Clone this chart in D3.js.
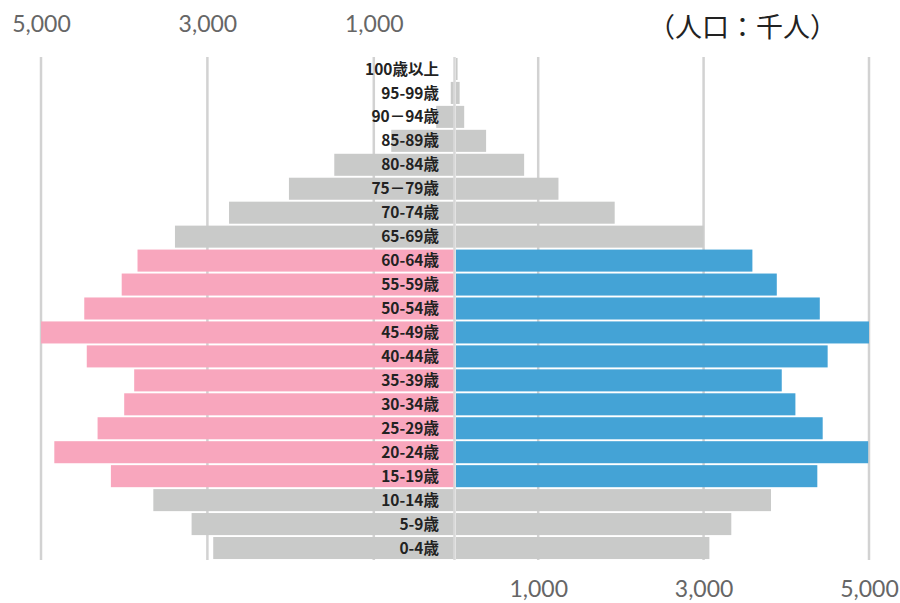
<!DOCTYPE html>
<html><head><meta charset="utf-8">
<script src="https://cdn.jsdelivr.net/npm/d3@7"></script>
<style>
html,body{margin:0;padding:0;background:#fff;}
svg{display:block;}
</style></head>
<body>
<svg id="chart" width="900" height="603"></svg>
<script>
// ---- data (thousand people) ----
const ageGroups = ["100歳以上","95-99歳","90－94歳","85-89歳","80-84歳","75－79歳","70-74歳","65-69歳","60-64歳","55-59歳","50-54歳","45-49歳","40-44歳","35-39歳","30-34歳","25-29歳","20-24歳","15-19歳","10-14歳","5-9歳","0-4歳"];
const leftValues  = [40, 75, 250, 790, 1475, 2020, 2740, 3390, 3840, 4030, 4480, 5000, 4450, 3880, 4000, 4320, 4840, 4160, 3650, 3190, 2930];
const rightValues = [25, 50, 105, 370, 830, 1245, 1925, 3000, 3590, 3885, 4405, 5000, 4500, 3945, 4110, 4440, 4990, 4375, 3815, 3335, 3070];
const workingAge  = [false,false,false,false,false,false,false,false,true,true,true,true,true,true,true,true,true,true,false,false,false];
const leftTicks  = [5000, 3000, 1000];
const rightTicks = [1000, 3000, 5000];
const unitLabel = "（人口：千人）";

// ---- scales ----
const svg = d3.select("#chart");
const xL = d3.scaleLinear().domain([0, 5000]).range([457, 41]);
const xR = d3.scaleLinear().domain([0, 5000]).range([455.5, 869]);
const y = d3.scaleBand().domain(ageGroups).range([57, 560]).paddingInner(0.08).paddingOuter(0.04);
const gap = 3.5;
const cPink = "#f8a6bd", cBlue = "#44a3d6", cGray = "#c9cac9";

// grid lines
const grid = svg.append("g");
grid.selectAll("line.l").data(leftTicks).join("line")
  .attr("x1", d => xL(d)).attr("x2", d => xL(d))
  .attr("y1", y.range()[0]).attr("y2", y.range()[1])
  .attr("stroke", "#d2d2d2").attr("stroke-width", 2.5);
grid.selectAll("line.r").data(rightTicks).join("line")
  .attr("x1", d => xR(d)).attr("x2", d => xR(d))
  .attr("y1", y.range()[0]).attr("y2", y.range()[1])
  .attr("stroke", "#d2d2d2").attr("stroke-width", 2.5);
grid.append("line")
  .attr("x1", (xL(0) - gap + xR(0)) / 2).attr("x2", (xL(0) - gap + xR(0)) / 2)
  .attr("y1", y.range()[0]).attr("y2", y.range()[1])
  .attr("stroke", "#d8d8d8").attr("stroke-width", 2.5);

// bars
const rows = ageGroups.map((a, i) => ({a, l: leftValues[i], r: rightValues[i], w: workingAge[i]}));
svg.append("g").selectAll("rect").data(rows).join("rect")
  .attr("x", d => xL(d.l))
  .attr("width", d => Math.max(0, xL(0) - gap - xL(d.l)))
  .attr("y", d => y(d.a)).attr("height", y.bandwidth())
  .attr("fill", d => d.w ? cPink : cGray);
svg.append("g").selectAll("rect").data(rows).join("rect")
  .attr("x", xR(0) + 0.5)
  .attr("width", d => xR(d.r) - xR(0) - 0.5)
  .attr("y", d => y(d.a)).attr("height", y.bandwidth())
  .attr("fill", d => d.w ? cBlue : cGray);

// age labels
svg.append("g").selectAll("text").data(ageGroups).join("text")
  .attr("x", 439).attr("y", d => y(d) + y.bandwidth() / 2)
  .attr("dy", "0.36em")
  .attr("text-anchor", "end")
  .attr("font-family", "'Noto Sans CJK JP', 'Noto Sans', sans-serif")
  .attr("font-weight", 700).attr("font-size", 15.5)
  .attr("fill", "#222")
  .text(d => d);

// axes
const fmt = d3.format(",");
const topAxis = svg.append("g").attr("transform", "translate(0,32)")
  .call(d3.axisTop(xL).tickValues(leftTicks).tickFormat(fmt).tickSize(0).tickPadding(0));
const botAxis = svg.append("g").attr("transform", "translate(0,597)")
  .call(d3.axisBottom(xR).tickValues(rightTicks).tickFormat(fmt).tickSize(0).tickPadding(0));
[topAxis, botAxis].forEach(g => {
  g.select(".domain").remove();
  g.selectAll("text").attr("font-family", "Lato, sans-serif").attr("font-size", 23).attr("fill", "#666");
});
topAxis.selectAll("text").attr("dy", 0);
botAxis.selectAll("text").attr("dy", 0);

// unit label
svg.append("text").attr("x", 648).attr("y", 37)
  .attr("font-family", "'Noto Sans CJK JP', sans-serif")
  .attr("font-size", 27).attr("fill", "#222")
  .text(unitLabel);
</script>
</body></html>
